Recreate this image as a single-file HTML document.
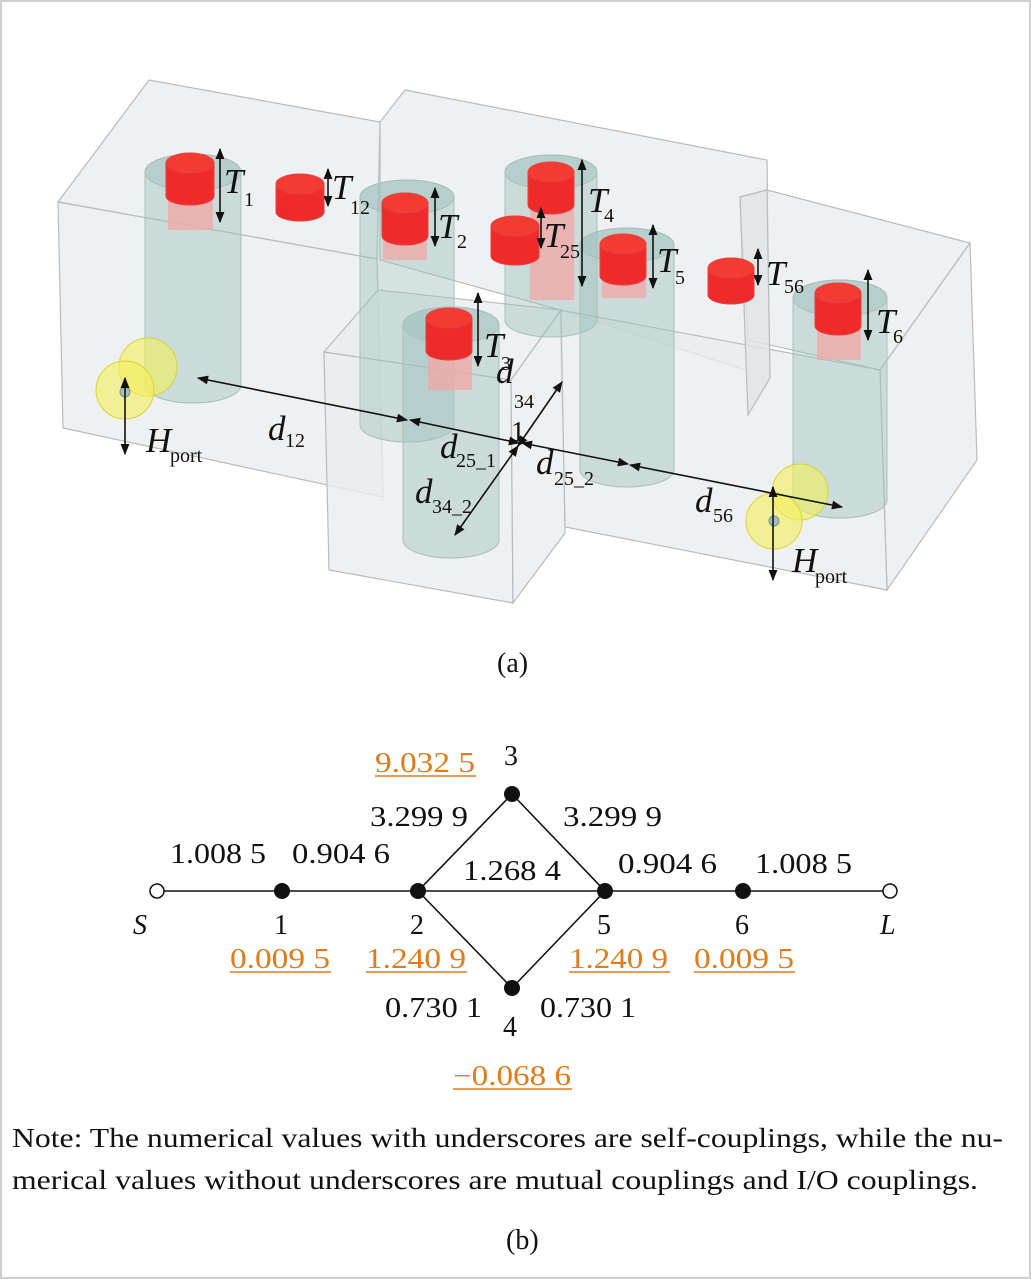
<!DOCTYPE html>
<html><head><meta charset="utf-8"><style>
html,body{margin:0;padding:0;background:#fff;}
svg{display:block;}
text{font-family:"Liberation Serif",serif;}
</style></head><body>
<svg width="1031" height="1279" viewBox="0 0 1031 1279" xmlns="http://www.w3.org/2000/svg">
<defs>
<marker id="a" viewBox="0 0 10 10" refX="9" refY="5" markerWidth="7" markerHeight="7" orient="auto-start-reverse"><path d="M0,1 L10,5 L0,9 z" fill="#111"/></marker>
</defs>
<rect x="1" y="1" width="1029" height="1277" fill="#fff" stroke="#cfcfcf" stroke-width="2"/>

<g stroke="#b8bcbf" stroke-width="1.2" fill="#eaecee" fill-opacity="0.8">
<!-- center tall back block -->
<polygon points="380,122 405,90 767,160 770,378 560,310 380,260"/>
<!-- left block -->
<polygon points="58,202 149,80 380,122 377,259"/>
<polygon points="58,202 377,259 383,497 63,428"/>
<!-- right block -->
<polygon points="740,197 767,190 970,243 880,370 748,340" />
<polygon points="880,370 970,243 977,460 887,590"/>
<polygon points="560,310 880,370 887,590 565,527"/>
<polygon points="740,197 748,415 770,378 767,190" fill="#e2e4e6"/>
<!-- center front block -->
<polygon points="324,352 378,290 561,310 511,380"/>
<polygon points="324,352 511,380 513,603 329,570"/>
<polygon points="511,380 561,310 565,533 513,603"/>
</g>

<!-- cylinders -->
<g fill="#9fc2bc" fill-opacity="0.45" stroke="#a9bfbb" stroke-width="1">
<path d="M145,172 L145,385 A48,18 0 0 0 241,385 L241,172 A48,18 0 0 0 145,172 z"/>
<ellipse cx="193" cy="172" rx="48" ry="18"/>
<path d="M360,197 L360,425 A47,17 0 0 0 454,425 L454,197 A47,17 0 0 0 360,197 z"/>
<ellipse cx="407" cy="197" rx="47" ry="17"/>
<path d="M505,172 L505,320 A46,17 0 0 0 597,320 L597,172 A46,17 0 0 0 505,172 z"/>
<ellipse cx="551" cy="172" rx="46" ry="17"/>
<path d="M580,245 L580,470 A47,17 0 0 0 674,470 L674,245 A47,17 0 0 0 580,245 z"/>
<ellipse cx="627" cy="245" rx="47" ry="17"/>
<path d="M403,325 L403,540 A48,18 0 0 0 499,540 L499,325 A48,18 0 0 0 403,325 z"/>
<ellipse cx="451" cy="325" rx="48" ry="18"/>
<path d="M793,298 L793,500 A47,18 0 0 0 887,500 L887,298 A47,18 0 0 0 793,298 z"/>
<ellipse cx="840" cy="298" rx="47" ry="18"/>
</g>

<!-- red screws -->
<g>
<g fill="#f0a9a6" fill-opacity="0.8"><rect x="168" y="180" width="45" height="50"/><rect x="383" y="220" width="44" height="40"/><rect x="530" y="200" width="44" height="100"/><rect x="602" y="268" width="44" height="30"/><rect x="428" y="340" width="44" height="50"/><rect x="817" y="310" width="44" height="50"/></g>
<g fill="#ee2a2a" stroke="#e64040" stroke-width="1">
<path d="M166,163 v33 a24,9 0 0 0 48,0 v-33 z"/><ellipse cx="190" cy="163" rx="24" ry="10" fill="#f23b33"/>
<path d="M276,184 v28 a24,9 0 0 0 48,0 v-28 z"/><ellipse cx="300" cy="184" rx="24" ry="10" fill="#f23b33"/>
<path d="M382,203 v33 a23,9 0 0 0 46,0 v-33 z"/><ellipse cx="405" cy="203" rx="23" ry="10" fill="#f23b33"/>
<path d="M528,172 v33 a23,9 0 0 0 46,0 v-33 z"/><ellipse cx="551" cy="172" rx="23" ry="10" fill="#f23b33"/>
<path d="M491,226 v30 a24,9 0 0 0 48,0 v-30 z"/><ellipse cx="515" cy="226" rx="24" ry="10" fill="#f23b33"/>
<path d="M600,244 v32 a23,9 0 0 0 46,0 v-32 z"/><ellipse cx="623" cy="244" rx="23" ry="10" fill="#f23b33"/>
<path d="M708,268 v27 a23,9 0 0 0 46,0 v-27 z"/><ellipse cx="731" cy="268" rx="23" ry="10" fill="#f23b33"/>
<path d="M815,293 v33 a23,9 0 0 0 46,0 v-33 z"/><ellipse cx="838" cy="293" rx="23" ry="10" fill="#f23b33"/>
<path d="M426,318 v33 a23,9 0 0 0 46,0 v-33 z"/><ellipse cx="449" cy="318" rx="23" ry="10" fill="#f23b33"/>
</g></g>

<!-- yellow ports -->
<g fill="#f4f05a" fill-opacity="0.6" stroke="#d9d43a" stroke-width="1">
<circle cx="148" cy="367" r="29"/><circle cx="125" cy="390" r="29"/>
<circle cx="800" cy="492" r="28"/><circle cx="774" cy="521" r="28"/>
</g>
<circle cx="125" cy="392" r="5" fill="#9fc2bc" stroke="#888"/>
<circle cx="774" cy="521" r="5" fill="#9fc2bc" stroke="#888"/>

<!-- dimension arrows -->
<g stroke="#111" stroke-width="1.6" fill="none" marker-start="url(#a)" marker-end="url(#a)">
<line x1="220" y1="149" x2="220" y2="222"/>
<line x1="328" y1="169" x2="328" y2="206"/>
<line x1="435" y1="188" x2="435" y2="246"/>
<line x1="541" y1="208" x2="541" y2="248"/>
<line x1="582" y1="160" x2="582" y2="286"/>
<line x1="653" y1="225" x2="653" y2="288"/>
<line x1="758" y1="249" x2="758" y2="285"/>
<line x1="868" y1="270" x2="868" y2="340"/>
<line x1="478" y1="293" x2="478" y2="366"/>
<line x1="125" y1="378" x2="125" y2="454"/>
<line x1="773" y1="487" x2="773" y2="580"/>
<line x1="198" y1="378" x2="407" y2="420"/>
<line x1="410" y1="420" x2="519" y2="443"/>
<line x1="522" y1="443" x2="628" y2="464"/>
<line x1="630" y1="465" x2="842" y2="507"/>
<line x1="518" y1="446" x2="562" y2="382"/>
<line x1="518" y1="446" x2="455" y2="535"/>
</g>

<!-- labels -->
<g font-style="italic" font-size="35" fill="#111">
<text x="224" y="193">T</text><text x="332" y="199">T</text><text x="438" y="238">T</text>
<text x="544" y="247">T</text><text x="588" y="212">T</text><text x="657" y="272">T</text>
<text x="766" y="285">T</text><text x="876" y="333">T</text><text x="484" y="357">T</text>
<text x="146" y="452">H</text><text x="792" y="572">H</text>
<text x="268" y="440">d</text><text x="440" y="458">d</text><text x="496" y="383">d</text>
<text x="536" y="474">d</text><text x="415" y="503">d</text><text x="695" y="512">d</text>
</g>
<g font-size="20" fill="#111">
<text x="244" y="206">1</text><text x="350" y="214">12</text><text x="457" y="248">2</text>
<text x="560" y="258">25</text><text x="604" y="222">4</text><text x="675" y="284">5</text>
<text x="784" y="293">56</text><text x="893" y="343">6</text><text x="501" y="370">3</text>
<text x="170" y="462">port</text><text x="815" y="583">port</text>
<text x="285" y="447">12</text><text x="456" y="467">25_1</text><text x="514" y="408">34</text>
<text x="554" y="485">25_2</text><text x="432" y="513">34_2</text><text x="713" y="522">56</text>
</g>
<text x="511" y="441" font-size="28" fill="#111">1</text>
<text x="497" y="672" font-size="28" fill="#111">(a)</text>

<!-- graph -->
<g stroke="#111" stroke-width="1.6">
<line x1="164" y1="891" x2="883" y2="891"/>
<line x1="418" y1="891" x2="512" y2="794"/><line x1="512" y1="794" x2="605" y2="891"/>
<line x1="418" y1="891" x2="512" y2="988"/><line x1="512" y1="988" x2="605" y2="891"/>
</g>
<circle cx="157" cy="891" r="7" fill="#fff" stroke="#111" stroke-width="1.5"/>
<circle cx="890" cy="891" r="7" fill="#fff" stroke="#111" stroke-width="1.5"/>
<g fill="#111"><circle cx="282" cy="891" r="8"/><circle cx="418" cy="891" r="8"/><circle cx="512" cy="794" r="8"/><circle cx="512" cy="988" r="8"/><circle cx="605" cy="891" r="8"/><circle cx="743" cy="891" r="8"/></g>
<g font-size="28" fill="#111" lengthAdjust="spacingAndGlyphs">
<text x="170" y="863" textLength="96" lengthAdjust="spacingAndGlyphs">1.008 5</text>
<text x="292" y="863" textLength="98" lengthAdjust="spacingAndGlyphs">0.904 6</text>
<text x="370" y="826" textLength="98" lengthAdjust="spacingAndGlyphs">3.299 9</text>
<text x="563" y="826" textLength="99" lengthAdjust="spacingAndGlyphs">3.299 9</text>
<text x="463" y="880" textLength="98" lengthAdjust="spacingAndGlyphs">1.268 4</text>
<text x="618" y="873" textLength="99" lengthAdjust="spacingAndGlyphs">0.904 6</text>
<text x="755" y="873" textLength="97" lengthAdjust="spacingAndGlyphs">1.008 5</text>
<text x="385" y="1017" textLength="97" lengthAdjust="spacingAndGlyphs">0.730 1</text>
<text x="540" y="1017" textLength="96" lengthAdjust="spacingAndGlyphs">0.730 1</text>
<text x="504" y="765">3</text><text x="274" y="934">1</text><text x="410" y="934">2</text>
<text x="597" y="934">5</text><text x="735" y="934">6</text><text x="503" y="1036">4</text>
<text x="133" y="934" font-style="italic">S</text><text x="880" y="934" font-style="italic">L</text>
</g>
<g font-size="28" fill="#e07b1a">
<text x="375" y="772" textLength="100" lengthAdjust="spacingAndGlyphs">9.032 5</text>
<text x="230" y="968" textLength="100" lengthAdjust="spacingAndGlyphs">0.009 5</text>
<text x="366" y="968" textLength="100" lengthAdjust="spacingAndGlyphs">1.240 9</text>
<text x="569" y="968" textLength="99" lengthAdjust="spacingAndGlyphs">1.240 9</text>
<text x="694" y="968" textLength="100" lengthAdjust="spacingAndGlyphs">0.009 5</text>
<text x="453" y="1085" textLength="118" lengthAdjust="spacingAndGlyphs">−0.068 6</text>
</g>
<g stroke="#e07b1a" stroke-width="1.4">
<line x1="375" y1="776" x2="476" y2="776"/><line x1="230" y1="972" x2="331" y2="972"/>
<line x1="366" y1="972" x2="467" y2="972"/><line x1="569" y1="972" x2="670" y2="972"/>
<line x1="694" y1="972" x2="795" y2="972"/><line x1="453" y1="1089" x2="572" y2="1089"/>
</g>
<g font-size="27" fill="#111">
<text x="12" y="1147" textLength="991" lengthAdjust="spacingAndGlyphs">Note: The numerical values with underscores are self-couplings, while the nu-</text>
<text x="12" y="1189" textLength="966" lengthAdjust="spacingAndGlyphs">merical values without underscores are mutual couplings and I/O couplings.</text>
<text x="506" y="1249" font-size="28">(b)</text>
</g>
</svg>
</body></html>
